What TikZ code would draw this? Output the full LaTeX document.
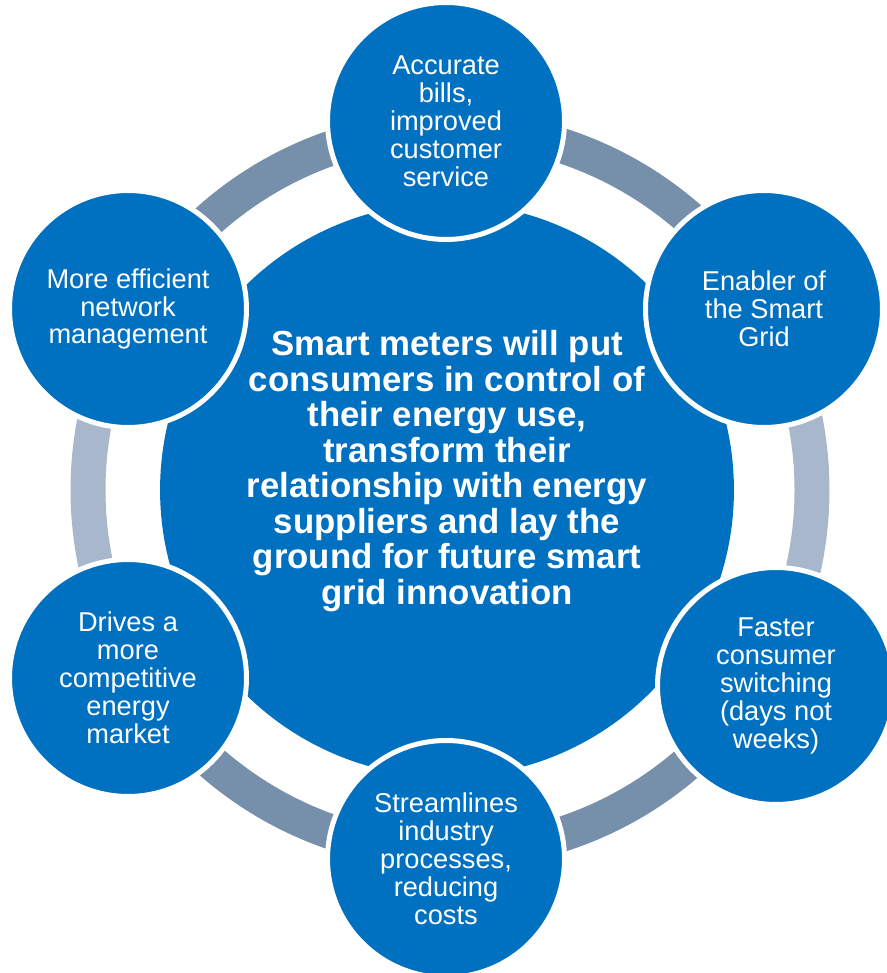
\documentclass[tikz,border=0pt]{standalone}
\usepackage{fontspec}
\setmainfont{Liberation Sans}
\definecolor{meterblue}{HTML}{0070C0}
\definecolor{bandlight}{HTML}{A9B7CC}
\definecolor{banddark}{HTML}{7690AB}
\tikzset{
  bubble/.style={circle, fill=meterblue, draw=white, line width=0.1cm,
    minimum size=4.74cm, inner sep=0pt, align=center, text=white,
    font=\fontsize{15.5}{15.9}\selectfont},
  band/.style={line width=0.7cm, line cap=butt},
}
\begin{document}
\begin{tikzpicture}[x=0.02cm, y=0.02cm]

  \useasboundingbox (0, 0) rectangle (886, 973);
  \coordinate (ring) at (450, 483);

  % ring segments
  \draw[band, banddark]  ([shift={(90:362)}]ring)  arc (90:30:362);
  \draw[band, bandlight] ([shift={(30:362)}]ring)  arc (30:-30:362);
  \draw[band, banddark]  ([shift={(-30:362)}]ring) arc (-30:-90:362);
  \draw[band, banddark]  ([shift={(-90:362)}]ring) arc (-90:-150:362);
  \draw[band, bandlight] ([shift={(210:362)}]ring) arc (210:150:362);
  \draw[band, banddark]  ([shift={(150:362)}]ring) arc (150:90:362);

  % centre
  \node[circle, fill=meterblue, minimum size=11.48cm, inner sep=0pt] (core) at (447, 483) {};
  \node[align=center, text=white, font=\fontsize{19.8}{20.2}\selectfont\bfseries]
    (coretext) at ([yshift=0.38cm]core.center)
    {Smart meters will put\\consumers in control of\\their energy use,\\transform their\\relationship with energy\\suppliers and lay the\\ground for future smart\\grid innovation};

  % benefits
  \node[bubble] (bills)   at (446, 852) {Accurate\\bills,\\improved\\customer\\service};
  \node[bubble] (grid)    at (764, 664) {Enabler of\\the Smart\\Grid};
  \node[bubble] (switch)  at (776, 287) {Faster\\consumer\\switching\\(days not\\weeks)};
  \node[bubble] (costs)   at (446, 114) {Streamlines\\industry\\processes,\\reducing\\costs};
  \node[bubble] (market)  at (128, 295) {Drives a\\more\\competitive\\energy\\market};
  \node[bubble] (network) at (128, 664) {More efficient\\network\\management};

\end{tikzpicture}
\end{document}
